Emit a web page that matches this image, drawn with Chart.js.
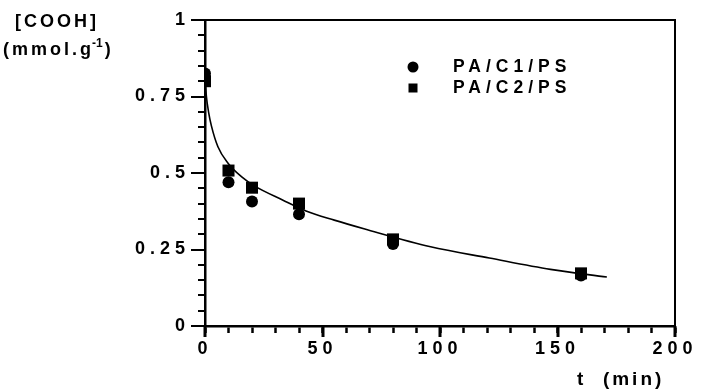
<!DOCTYPE html>
<html>
<head>
<meta charset="utf-8">
<script src="https://cdn.jsdelivr.net/npm/chart.js@4"></script>
<style>
html,body{margin:0;padding:0;background:#fff;}
#wrap{width:705px;height:390px;}
</style>
</head>
<body>
<div id="wrap"><canvas id="c" width="705" height="390"></canvas></div>
<script>
// ---- data ----
const times = [0, 10, 20, 40, 80, 160];
const c1Values = [0.825, 0.47, 0.407, 0.365, 0.268, 0.165];
const c2Values = [0.80, 0.508, 0.452, 0.40, 0.283, 0.172];
const fitT = [0, 0.6, 1.5, 2.7, 5.5, 9.8, 15.5, 21, 33, 43, 55, 68, 96, 121, 147, 171];
const fitC = [0.81, 0.75, 0.70, 0.655, 0.586, 0.532, 0.488, 0.458, 0.412, 0.376, 0.346, 0.317, 0.259, 0.222, 0.185, 0.16];
const seriesNames = ['PA/C1/PS', 'PA/C2/PS'];
const xTickLabels = [0, 50, 100, 150, 200];
const xMinorStep = 10;
const yTickLabels = ['0', '0.25', '0.5', '0.75', '1'];
const yMinorStep = 0.05;
const xTitle = 't  (min)';
const yTitle1 = '[COOH]';
const yTitle2 = '(mmol.g';
const yTitleSup = '-1';

const FONT = '"Liberation Sans", Arial, sans-serif';
const SPACING = '5px';

function toPts(xs, ys){ return xs.map((x,i)=>({x:x, y:ys[i]})); }

const spacingPlugin = {
  id:'spacing',
  beforeUpdate(chart){ chart.ctx.letterSpacing = SPACING; },
  beforeLayout(chart){ chart.ctx.letterSpacing = SPACING; },
  beforeDraw(chart){ chart.ctx.letterSpacing = SPACING; }
};

const decoPlugin = {
  id:'deco',
  afterDraw(chart){
    const ctx = chart.ctx;
    const a = chart.chartArea;
    const xs = chart.scales.x, ys = chart.scales.y;
    ctx.save();
    ctx.fillStyle = '#000';
    // frame (top and right)
    ctx.fillRect(a.left, a.top - 1, a.right - a.left + 1, 2);
    ctx.fillRect(a.right - 1, a.top - 1, 2, a.bottom - a.top + 1);
    // longer major x ticks
    const base = Math.round(ys.getPixelForValue(0));
    xTickLabels.forEach(v=>{
      const px = Math.round(xs.getPixelForValue(v));
      ctx.fillRect(px - 1.5, base, 3, 11);
    });
    // y tick marks (to the left of the axis)
    const ny = Math.round((ys.max - ys.min) / yMinorStep);
    for (let i = 0; i <= ny; i++) {
      const v = ys.min + i * yMinorStep;
      const py = Math.round(ys.getPixelForValue(v));
      const len = (i % 5) === 0 ? 14 : 7;
      ctx.fillRect(a.left - len, py - 1, len + 1, 2);
    }

    // y axis title (two lines, horizontal)
    ctx.letterSpacing = '3px';
    ctx.font = 'bold 18px ' + FONT;
    ctx.textBaseline = 'middle';
    ctx.textAlign = 'left';
    ctx.fillText(yTitle1, 15, 22);
    ctx.letterSpacing = '3px';
    ctx.fillText(yTitle2, 3, 50);
    const w = ctx.measureText(yTitle2).width;
    ctx.font = 'bold 12px ' + FONT;
    ctx.letterSpacing = '0px';
    ctx.fillText(yTitleSup.replace('-', '\u2011'), 3 + w - 2, 44);
    const w2 = ctx.measureText(yTitleSup).width;
    ctx.font = 'bold 18px ' + FONT;
    ctx.fillText(')', 3 + w + w2, 50);

    // x axis title
    ctx.letterSpacing = '3px';
    ctx.font = 'bold 19px ' + FONT;
    ctx.fillText(xTitle, 577, 380);

    // legend
    ctx.letterSpacing = SPACING;
    ctx.font = 'bold 17.5px ' + FONT;
    const lx = 413;
    chart.data.datasets.slice(0,2).forEach((ds, i)=>{
      const ly = 67 + i*21;
      if (ds.pointStyle === 'circle') {
        ctx.beginPath(); ctx.arc(lx, ly, 5.5, 0, Math.PI*2); ctx.fill();
      } else {
        ctx.fillRect(lx-4.5, ly-4.5, 9, 9);
      }
      ctx.fillText(ds.label, 453, ly);
    });
    ctx.restore();
  }
};

function noPad(s){ s.paddingTop = 0; s.paddingBottom = 0; s.paddingLeft = 0; s.paddingRight = 0; }

new Chart(document.getElementById('c'), {
  type:'scatter',
  data:{
    datasets:[
      {label:seriesNames[0], data:toPts(times, c1Values), pointStyle:'circle', pointRadius:6,
       backgroundColor:'#000', borderColor:'#000', borderWidth:0, showLine:false, order:1},
      {label:seriesNames[1], data:toPts(times, c2Values), pointStyle:'rect', pointRadius:8.5,
       backgroundColor:'#000', borderColor:'#000', borderWidth:0, showLine:false, order:2},
      {label:'fit', data:toPts(fitT, fitC), showLine:true, pointRadius:0, borderColor:'#000',
       borderWidth:1.6, backgroundColor:'#000', cubicInterpolationMode:'monotone', fill:false, order:3}
    ]
  },
  options:{
    responsive:false,
    animation:false,
    devicePixelRatio:1,
    layout:{padding:{left:0, top:20, right:30, bottom:0}},
    plugins:{legend:{display:false}, tooltip:{enabled:false}},
    scales:{
      x:{
        type:'linear', min:0, max:200,
        afterFit(s){ s.height = 64; noPad(s); },
        grid:{display:true, drawOnChartArea:false, drawTicks:true, tickLength:7, tickWidth:2.5, tickColor:'#000', color:'#000'},
        border:{display:true, color:'#000', width:2.5},
        ticks:{
          stepSize:xMinorStep, autoSkip:false, maxRotation:0, padding:5,
          color:'#000', font:{family:FONT, size:18, weight:'bold'},
          callback(v){ const r = Math.round(v); return xTickLabels.includes(r) ? String(r) : ''; }
        }
      },
      y:{
        type:'linear', min:0, max:1,
        afterFit(s){ s.width = 205; noPad(s); },
        grid:{display:false, drawTicks:false},
        border:{display:true, color:'#000', width:2.5},
        ticks:{
          stepSize:0.25, autoSkip:false, padding:15,
          color:'#000', font:{family:FONT, size:18, weight:'bold'},
          callback(v){ const r = Math.round(v*4); return yTickLabels[r]; }
        }
      }
    }
  },
  plugins:[spacingPlugin, decoPlugin]
});
</script>
</body>
</html>
